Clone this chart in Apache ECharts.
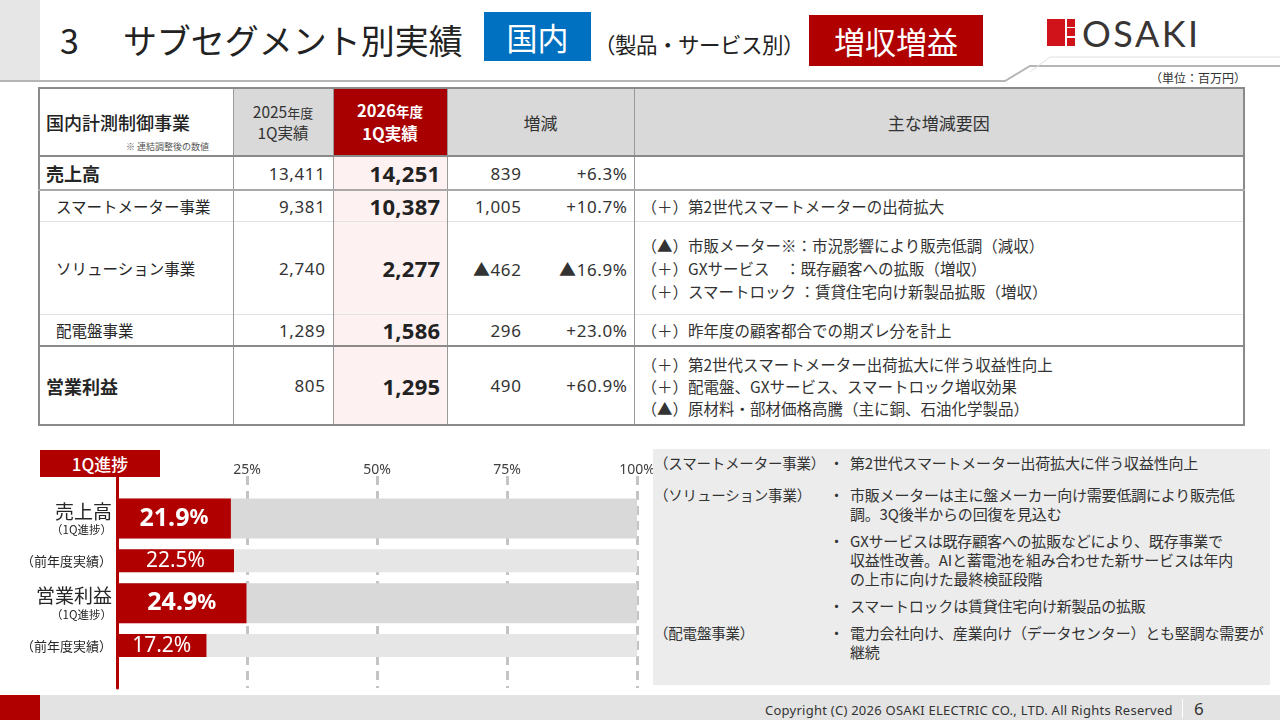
<!DOCTYPE html>
<html><head><meta charset="utf-8">
<script src="https://cdn.jsdelivr.net/npm/echarts@6/dist/echarts.min.js"></script>
<style>
*{margin:0;padding:0;box-sizing:border-box;}
body{width:1280px;height:720px;position:relative;background:#fff;font-family:"Noto Sans CJK JP","Noto Sans",sans-serif;color:#262626;overflow:hidden;}
.abs{position:absolute;white-space:nowrap;}
table{position:absolute;left:38px;top:87px;border-collapse:collapse;table-layout:fixed;border:2px solid #8a8a8a;}
td{border-left:1px solid #9a9a9a;border-right:1px solid #9a9a9a;padding:0;vertical-align:middle;}
.hd{background:#d9d9d9;text-align:center;font-size:17px;color:#333;}
.hd div{white-space:nowrap;}
.red{background:#a80000;color:#fff;}
.pink{background:#fdf1f1;}
.num{text-align:right;padding-right:7px;font-size:17px;letter-spacing:0.6px;color:#333;font-family:"Noto Sans",sans-serif;}
.big{text-align:right;padding-right:6px;font-size:22px;letter-spacing:0.3px;font-weight:700;color:#222;font-family:"Noto Sans",sans-serif;}
.diff{display:flex;font-size:17px;letter-spacing:0.6px;color:#333;font-family:"Noto Sans","Noto Sans CJK JP",sans-serif;}
.diff .a{width:74px;text-align:right;}
.diff .b{flex:1;text-align:right;padding-right:6px;}
.rs{font-size:15.5px;padding-left:7px;color:#333;}
.rs div{white-space:nowrap;height:23px;line-height:23px;}
.pl{position:absolute;font-size:15px;letter-spacing:-0.2px;color:#333;white-space:nowrap;line-height:18px;}
</style></head>
<body>
<!-- header -->
<div class="abs" style="left:0;top:0;width:40px;height:82px;background:#e6e6e6;"></div>
<svg class="abs" style="left:0;top:0;" width="1280" height="90">
<polyline points="0,81 1005,81 1030,66 1280,66" fill="none" stroke="#b5b5b5" stroke-width="2"/>
<polyline points="1030,72 1050,57 1280,57" fill="none" stroke="#e0e0e0" stroke-width="1"/>
</svg>
<div class="abs" style="left:60px;top:16px;font-size:34px;color:#222;line-height:48px;">3<span style="margin-left:44px;">サブセグメント別実績</span></div>
<div class="abs" style="left:484px;top:12px;width:107px;height:49px;background:#0070c0;color:#fff;font-size:31px;line-height:49px;text-align:center;">国内</div>
<div class="abs" style="left:594px;top:28px;font-size:21.5px;letter-spacing:-0.5px;line-height:32px;color:#222;">（製品・サービス別）</div>
<div class="abs" style="left:809px;top:15px;width:174px;height:51px;background:#b00000;color:#fff;font-size:31px;line-height:51px;text-align:center;">増収増益</div>
<div class="abs" style="left:1047px;top:19px;width:18px;height:27px;background:#d0121b;"></div>
<div class="abs" style="left:1067px;top:19px;width:8px;height:8px;background:#d0121b;"></div>
<div class="abs" style="left:1067px;top:28px;width:8px;height:8px;background:#d0121b;"></div>
<div class="abs" style="left:1067px;top:38px;width:8px;height:8px;background:#d0121b;"></div>
<div class="abs" style="left:1082px;top:11px;font-family:Lato,'Noto Sans',sans-serif;font-size:36px;line-height:44px;color:#3a3535;letter-spacing:2.5px;">OSAKI</div>
<div class="abs" style="left:1150px;top:70px;font-size:12px;line-height:16px;color:#333;">（単位：百万円）</div>

<!-- table -->
<table>
<colgroup><col style="width:194px"><col style="width:100px"><col style="width:114px"><col style="width:187px"><col style="width:610px"></colgroup>
<tr style="height:68px;border-bottom:2px solid #8a8a8a;">
<td style="position:relative;"><div style="position:absolute;left:6px;top:21px;font-size:18px;line-height:24px;font-weight:500;color:#222;white-space:nowrap;">国内計測制御事業</div><div style="position:absolute;left:86px;top:52px;font-size:9px;line-height:11px;color:#555;white-space:nowrap;">※ 連結調整後の数値</div></td>
<td class="hd"><div style="font-size:15.5px;line-height:18.8px;">2025<span style="font-size:13px;">年度</span></div><div style="font-size:15.5px;line-height:18.8px;">1Q実績</div></td>
<td class="hd red"><div style="font-size:16.5px;line-height:23px;height:23px;font-weight:700;">2026<span style="font-size:13.5px;">年度</span></div><div style="font-size:16.5px;line-height:23px;height:23px;font-weight:700;">1Q実績</div></td>
<td class="hd">増減</td>
<td class="hd">主な増減要因</td>
</tr>
<tr style="height:34px;border-bottom:2px solid #a8a8a8;">
<td style="padding-left:6px;font-size:18px;font-weight:700;">売上高</td>
<td class="num">13,411</td><td class="big pink">14,251</td>
<td><div class="diff"><span class="a">839</span><span class="b">+6.3%</span></div></td>
<td></td></tr>
<tr style="height:31px;border-bottom:1px solid #e2e2e2;">
<td style="padding-left:16px;font-size:15.5px;">スマートメーター事業</td>
<td class="num">9,381</td><td class="big pink">10,387</td>
<td><div class="diff"><span class="a">1,005</span><span class="b">+10.7%</span></div></td>
<td class="rs"><div>（＋）第2世代スマートメーターの出荷拡大</div></td></tr>
<tr style="height:93px;border-bottom:1px solid #e2e2e2;">
<td style="padding-left:16px;font-size:15.5px;">ソリューション事業</td>
<td class="num">2,740</td><td class="big pink">2,277</td>
<td><div class="diff"><span class="a">▲462</span><span class="b">▲16.9%</span></div></td>
<td class="rs"><div>（▲）市販メーター※：市況影響により販売低調（減収）</div><div>（＋）GXサービス　：既存顧客への拡販（増収）</div><div>（＋）スマートロック ：賃貸住宅向け新製品拡販（増収）</div></td></tr>
<tr style="height:31px;border-bottom:2px solid #8a8a8a;">
<td style="padding-left:16px;font-size:15.5px;">配電盤事業</td>
<td class="num">1,289</td><td class="big pink">1,586</td>
<td><div class="diff"><span class="a">296</span><span class="b">+23.0%</span></div></td>
<td class="rs"><div>（＋）昨年度の顧客都合での期ズレ分を計上</div></td></tr>
<tr style="height:79px;">
<td style="padding-left:6px;font-size:18px;font-weight:700;">営業利益</td>
<td class="num">805</td><td class="big pink">1,295</td>
<td><div class="diff"><span class="a">490</span><span class="b">+60.9%</span></div></td>
<td class="rs"><div style="height:22px;line-height:22px;">（＋）第2世代スマートメーター出荷拡大に伴う収益性向上</div><div style="height:22px;line-height:22px;">（＋）配電盤、GXサービス、スマートロック増収効果</div><div style="height:22px;line-height:22px;">（▲）原材料・部材価格高騰（主に銅、石油化学製品）</div></td></tr>
</table>

<!-- chart -->
<div id="chart" class="abs" style="left:0;top:440px;width:700px;height:255px;"></div>
<div class="abs" style="left:40px;top:450px;width:120px;height:27px;background:#b00000;color:#fff;font-size:17px;line-height:27px;text-align:center;font-weight:500;">1Q進捗</div>

<!-- right panel -->
<div class="abs" style="left:653px;top:449px;width:617px;height:236px;background:#ececec;"></div>
<div class="pl" style="left:654px;top:454px;font-size:14.5px;">（スマートメーター事業）</div>
<div class="pl" style="left:829px;top:454px;">・</div>
<div class="pl" style="left:850px;top:454px;">第2世代スマートメーター出荷拡大に伴う収益性向上</div>
<div class="pl" style="left:654px;top:486px;font-size:14.5px;">（ソリューション事業）</div>
<div class="pl" style="left:829px;top:486px;">・</div>
<div class="pl" style="left:850px;top:486px;">市販メーターは主に盤メーカー向け需要低調により販売低</div>
<div class="pl" style="left:850px;top:505px;">調。3Q後半からの回復を見込む</div>
<div class="pl" style="left:829px;top:532px;">・</div>
<div class="pl" style="left:850px;top:532px;">GXサービスは既存顧客への拡販などにより、既存事業で</div>
<div class="pl" style="left:850px;top:551px;">収益性改善。AIと蓄電池を組み合わせた新サービスは年内</div>
<div class="pl" style="left:850px;top:570px;">の上市に向けた最終検証段階</div>
<div class="pl" style="left:829px;top:597px;">・</div>
<div class="pl" style="left:850px;top:597px;">スマートロックは賃貸住宅向け新製品の拡販</div>
<div class="pl" style="left:654px;top:624px;font-size:14.5px;">（配電盤事業）</div>
<div class="pl" style="left:829px;top:624px;">・</div>
<div class="pl" style="left:850px;top:624px;">電力会社向け、産業向け（データセンター）とも堅調な需要が</div>
<div class="pl" style="left:850px;top:643px;">継続</div>

<!-- footer -->
<div class="abs" style="left:0;top:695px;width:1280px;height:25px;background:#e3e3e3;"></div>
<div class="abs" style="left:0;top:695px;width:40px;height:25px;background:#b00000;"></div>
<div class="abs" style="left:765px;top:701px;font-size:13px;letter-spacing:0.25px;line-height:18px;color:#333;font-family:'Noto Sans',sans-serif;">Copyright (C) 2026 OSAKI ELECTRIC CO., LTD. All Rights Reserved</div>
<div class="abs" style="left:1182px;top:699px;width:1px;height:19px;background:#fff;"></div>
<div class="abs" style="left:1194px;top:698px;font-size:17px;line-height:22px;color:#333;font-family:'Noto Sans',sans-serif;">6</div>

<script>
// ---- data ----
const rowLabels = ['売上高', '（前年度実績）', '営業利益', '（前年度実績）'];
const rowSubLabels = ['（1Q進捗）', '', '（1Q進捗）', ''];
const progress1Q = [21.9, 24.9];      // 売上高, 営業利益 (current 1Q progress %)
const prevYear = [22.5, 17.2];        // previous year's 1Q progress %
const fullScale = 100;
const tickValues = [25, 50, 75, 100];

// axis positions: blank at both ends so bars sit on ticks
const axisCats = ['top'].concat(rowLabels.map((_, i) => 'r' + i), ['bottom']);
const thickVals = ['-', progress1Q[0], '-', progress1Q[1], '-', '-'];
const thinVals = ['-', '-', prevYear[0], '-', prevYear[1], '-'];
const thickBg = thickVals.map(v => v === '-' ? '-' : fullScale);
const thinBg = thinVals.map(v => v === '-' ? '-' : fullScale);

const RED = '#b00000';
const chart = echarts.init(document.getElementById('chart'));
const yBase = {
  type: 'category', data: axisCats, inverse: true, boundaryGap: false,
  axisTick: { show: false }
};
chart.setOption({
  animation: false,
  textStyle: { fontFamily: '"Noto Sans CJK JP", "Noto Sans", sans-serif' },
  grid: { left: 117, right: 63, top: 36, bottom: 7, containLabel: false, outerBoundsMode: 'none' },
  xAxis: {
    type: 'value', position: 'top', min: 0, max: 100, interval: 25,
    axisLine: { show: false }, axisTick: { show: false },
    axisLabel: { margin: -1, fontSize: 14, color: '#404040', fontFamily: '"Noto Sans", sans-serif',
      formatter: v => tickValues.indexOf(v) >= 0 ? v + '%' : '' },
    splitLine: { show: true, lineStyle: { color: '#c4c4c4', width: 3, type: [9, 6] } }
  },
  yAxis: [
    Object.assign({}, yBase, {
      z: 5,
      axisLine: { show: true, lineStyle: { color: RED, width: 3 } },
      axisLabel: {
        margin: 5, interval: 0,
        formatter: (v, i) => {
          const k = i - 1;
          if (k < 0 || k >= rowLabels.length) return '';
          if (rowSubLabels[k]) return '{big|' + rowLabels[k] + '}\n{small|' + rowSubLabels[k] + '}';
          return '{mid|' + rowLabels[k] + '}';
        },
        rich: {
          big: { fontSize: 19, lineHeight: 22, color: '#262626', align: 'right' },
          small: { fontSize: 11.5, lineHeight: 14, color: '#262626', align: 'right' },
          mid: { fontSize: 13, lineHeight: 16, color: '#262626', align: 'right' }
        }
      }
    }),
    Object.assign({}, yBase, { show: false })
  ],
  series: [
    { type: 'bar', yAxisIndex: 0, data: thickBg, barWidth: 40, barGap: '-100%',
      itemStyle: { color: '#d9d9d9' }, silent: true },
    { type: 'bar', yAxisIndex: 0, data: thickVals, barWidth: 40, barGap: '-100%',
      itemStyle: { color: RED },
      label: { show: true, position: 'inside', color: '#fff',
        formatter: p => '{n|' + p.value.toFixed(1) + '}{u|%}',
        rich: { n: { fontSize: 25, fontWeight: 'bold', color: '#fff', fontFamily: '"Noto Sans", sans-serif' },
                u: { fontSize: 21, fontWeight: 'bold', color: '#fff', fontFamily: '"Noto Sans", sans-serif' } } } },
    { type: 'bar', yAxisIndex: 1, data: thinBg, barWidth: 23, barGap: '-100%',
      itemStyle: { color: '#e6e6e6' }, silent: true },
    { type: 'bar', yAxisIndex: 1, data: thinVals, barWidth: 23, barGap: '-100%',
      itemStyle: { color: RED },
      label: { show: true, position: 'inside', color: '#fff', fontSize: 21, fontFamily: '"Noto Sans", sans-serif',
        formatter: p => p.value.toFixed(1) + '%' } }
  ]
});
</script>
</body></html>
